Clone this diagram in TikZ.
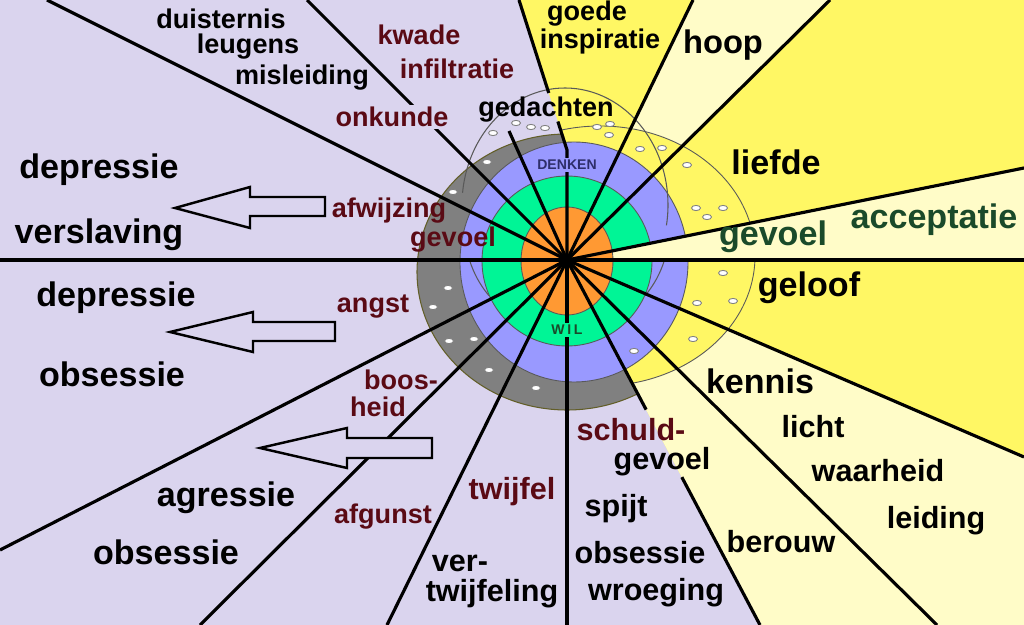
\documentclass[tikz,border=0pt]{standalone}
\usepackage{fontspec}
\setmainfont{Liberation Sans}
\usepackage{xcolor}
\definecolor{lavbg}{HTML}{DAD4EE}
\definecolor{sunyel}{HTML}{FFF764}
\definecolor{paleyel}{HTML}{FFFCC8}
\definecolor{ringblue}{HTML}{9999FF}
\definecolor{ringgreen}{HTML}{00F596}
\definecolor{ringorange}{HTML}{FF9933}
\definecolor{ringgray}{HTML}{808080}
\definecolor{darkred}{HTML}{5A0A14}
\definecolor{darkgreen}{HTML}{1A4A2A}
\definecolor{navytext}{HTML}{2E2E6A}
\usepackage{tikz}
\usetikzlibrary{calc}

\begin{document}
\begin{tikzpicture}[x=0.02cm,y=-0.02cm,
  ray/.style={line width=1.8pt,line join=round},
  ringline/.style={draw=black!65,line width=0.5pt},
  aura/.style={draw=black!65,line width=0.6pt},
  dot/.style={fill=white,draw=black!50,line width=0.5pt},
  blockarrow/.style={fill=lavbg,draw=black,line width=1.4pt,line join=miter},
  word/.style={inner sep=0pt,font=\fontsize{15.4}{16}\selectfont\bfseries},
  bigword/.style={word,font=\fontsize{17.4}{18}\selectfont\bfseries},
  hugeword/.style={word,font=\fontsize{19.4}{20}\selectfont\bfseries},
  ringword/.style={inner sep=1pt,font=\fontsize{8}{9}\selectfont\bfseries},
  evil/.style={text=darkred},
  good/.style={text=darkgreen}]

\useasboundingbox (0,0) rectangle (1024,625);
\clip (0,0) rectangle (1024,625);

% centre and ray ends
\coordinate (C) at (567,260);
\coordinate (r1) at (47,0);
\coordinate (r2) at (307,0);
\coordinate (s1) at (509,131);
\coordinate (r3) at (519,0);
\coordinate (r3b) at (567,150);
\coordinate (r4) at (693,0);
\coordinate (r5) at (830,0);
\coordinate (r6) at (1024,168);
\coordinate (hr) at (1024,260);
\coordinate (hl) at (0,260);
\coordinate (r8) at (1024,457);
\coordinate (r9) at (937,625);
\coordinate (r10) at (760,625);
\coordinate (r11) at (567,625);
\coordinate (r12) at (387,625);
\coordinate (r13) at (200,625);
\coordinate (r14) at (0,550);

% background wedges
\fill[lavbg] (0,0) rectangle (1024,625);
\fill[sunyel] (C) -- (r3b) -- (r3) -- (1024,0) -- (1024,625) -- (r10) -- cycle;
\fill[paleyel] (C) -- (r4) -- (r5) -- cycle;
\fill[paleyel] (C) -- (r8) -- (1024,625) -- (r10) -- cycle;

% rings
\begin{scope}
  \clip (C) -- (r3b) -- (r3) -- (0,0) -- (0,625) -- (r10) -- cycle;
  \filldraw[fill=ringgray,draw=olive!60!black,line width=0.6pt] (567,272) ellipse[x radius=150,y radius=138];
\end{scope}
\begin{scope}
  \clip (C) -- (r3b) -- (r3) -- (1024,0) -- (1024,625) -- (r10) -- cycle;
  \filldraw[fill=sunyel,ringline] (600,256) ellipse[x radius=155,y radius=130];
\end{scope}
\filldraw[fill=ringblue,ringline] (574,262) ellipse[x radius=114,y radius=120];
\filldraw[fill=ringgreen,ringline] (567,261) circle[radius=85];
\fill[paleyel] (C) -- (r6) -- (hr) -- cycle;
\filldraw[fill=ringorange,ringline] (567,261) ellipse[x radius=46,y radius=54];

% little white ovals
\foreach \p in {(516,123),(531,127),(545,128),(493,133),(487,162),(453,192),
  (448,288),(433,307),(449,341),(474,339),(489,370),(536,388),
  (597,127),(610,124),(609,135),(640,149),(662,148),(687,165),(696,208),
  (707,217),(723,208),(723,273),(733,301),(697,303),(693,339),(634,351)}
  \draw[dot] \p ellipse[x radius=4.5,y radius=2.6];

% thin aura lines
\draw[aura] ($(565,205)+(186:103 and 117)$) arc[start angle=186,end angle=370,x radius=103,y radius=117];
\draw[aura] ($(567,230)+(163:102)$) arc[start angle=163,end angle=140,radius=102];
\draw[aura] ($(567,230)+(17:102)$) arc[start angle=17,end angle=40,radius=102];

% rays
\foreach \e in {r1,r2,s1,r4,r5,r6,r8,r9,r11,r12,r13,r14}
  \draw[ray] (C) -- (\e);
\draw[ray] (hl) -- (hr);
\draw[ray] (r3) -- ($(r3)!0.62!(r3b)$);
\draw[ray] ($(r3)!0.81!(r3b)$) -- (r3b) -- (C);
\draw[ray] (C) -- ($(C)!0.41!(r10)$);
\draw[ray] ($(C)!0.595!(r10)$) -- (r10);

% block arrows
\draw[blockarrow] (175,208) -- (250,187) -- (250,197) -- (325,197) -- (325,216) -- (250,216) -- (250,228) -- cycle;
\draw[blockarrow] (170,332) -- (253,312) -- (253,322) -- (335,322) -- (335,341) -- (253,341) -- (253,352) -- cycle;
\draw[blockarrow] (260,448) -- (347,428) -- (347,438) -- (432,438) -- (432,458) -- (347,458) -- (347,468) -- cycle;

% ring words
\node[ringword,fill=ringblue,text=navytext] (denken) at (567,165) {DENKEN};
\node[ringword,fill=ringgreen,text=darkgreen] (wil) at (567,330) {W\kern1.5pt I\kern1.5pt L};

% dark side
\node[word] (duisternis) at (221,19) {duisternis};
\node[word] (leugens) at (248,47) {leugens};
\node[word] (misleiding) at (302,78) {misleiding};
\node[word,evil] (kwade) at (419,35) {kwade};
\node[word,evil] (infiltratie) at (457,69) {infiltratie};
\node[word,evil,fill=lavbg,inner sep=1pt] (onkunde) at (392,117) {onkunde};
\node[word] (gedachten) at (546,110) {gedachten};
\node[word,evil] (afwijzing) at (389,211) {afwijzing};
\node[word,evil] (gevoelL) at (453,240) {gevoel};
\node[word,evil] (angst) at (373,307) {angst};
\node[word,evil] (boos) at (401,380) {boos-};
\node[word,evil] (heid) at (378,407) {heid};
\node[word,evil] (afgunst) at (383,517) {afgunst};
\node[bigword,evil] (twijfel) at (512,492) {twijfel};
\node[bigword,evil] (schuld) at (631,430) {schuld-};
\node[bigword] (gevoelS) at (662,462) {gevoel};
\node[bigword] (spijt) at (616,509) {spijt};
\node[bigword] (obsC) at (640,553) {obsessie};
\node[bigword] (wroeging) at (656,593) {wroeging};
\node[bigword] (ver) at (460,563) {ver-};
\node[bigword] (twijfeling) at (492,594) {twijfeling};
\node[hugeword] (depA) at (99,170) {depressie};
\node[hugeword] (verslaving) at (99,235) {verslaving};
\node[hugeword] (depB) at (116,298) {depressie};
\node[hugeword] (obsA) at (112,374) {obsessie};
\node[hugeword] (agressie) at (226,498) {agressie};
\node[hugeword] (obsB) at (166,552) {obsessie};

% light side
\node[word] (goede) at (587,14) {goede};
\node[word] (inspiratie) at (600,42) {inspiratie};
\node[hugeword,font=\fontsize{18.6}{19}\selectfont\bfseries] (hoop) at (723,45) {hoop};
\node[hugeword] (liefde) at (776,162) {liefde};
\node[hugeword,good] (acceptatie) at (934,220) {acceptatie};
\node[hugeword,good] (gevoelR) at (773,237) {gevoel};
\node[hugeword] (geloof) at (809,288) {geloof};
\node[hugeword] (kennis) at (760,381) {kennis};
\node[bigword] (licht) at (813,427) {licht};
\node[bigword] (waarheid) at (878,471) {waarheid};
\node[bigword] (leiding) at (936,521) {leiding};
\node[bigword] (berouw) at (781,542) {berouw};
\end{tikzpicture}
\end{document}
